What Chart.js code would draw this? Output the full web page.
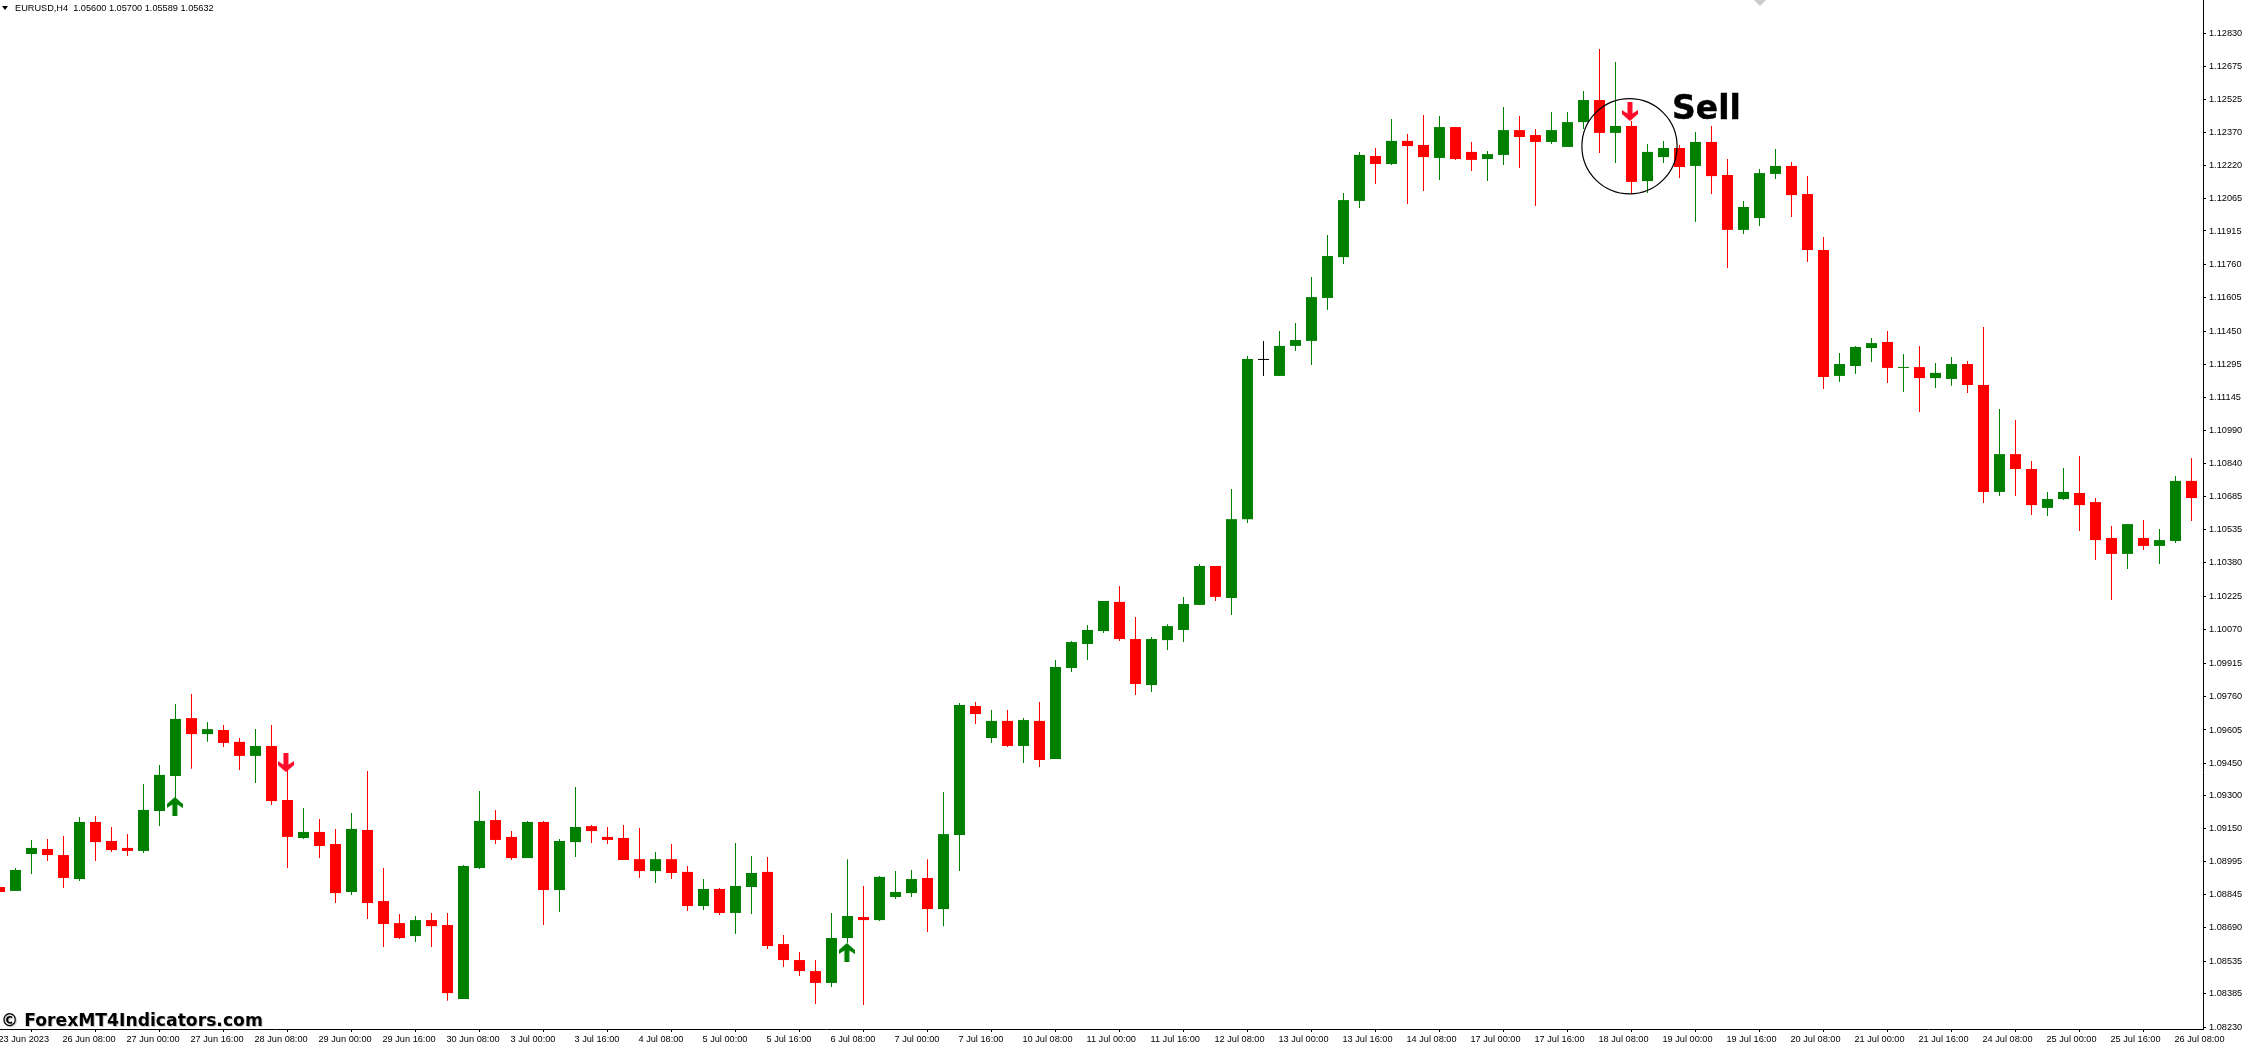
<!DOCTYPE html>
<html><head><meta charset="utf-8">
<script src="https://cdn.jsdelivr.net/npm/chart.js@4"></script>
<style>
html,body{margin:0;padding:0;background:#fff;overflow:hidden;width:2244px;height:1044px}
canvas{display:block;position:absolute;left:0;top:0}
.t{position:absolute;white-space:pre;color:#000;line-height:1}
#head{left:15px;top:3px;font:9.2px "Liberation Sans",sans-serif}
#tri{position:absolute;left:2px;top:6px;width:0;height:0;border-left:3px solid transparent;border-right:3px solid transparent;border-top:4px solid #000}
#mark{left:1px;top:1010px;font:bold 17.2px "DejaVu Sans",sans-serif;text-shadow:1px 1px 0 #ccc}
#sell{left:1672px;top:88px;font:bold 33px "DejaVu Sans",sans-serif;-webkit-text-stroke:.5px #000}
#dia{position:absolute;left:1755px;top:-6px;width:10px;height:10px;background:#ccc;transform:rotate(45deg)}
</style></head><body>
<canvas id="c" width="2244" height="1044"></canvas>
<div id="tri"></div>
<div class="t" id="head">EURUSD,H4  1.05600 1.05700 1.05589 1.05632</div>
<div class="t" id="mark">© ForexMT4Indicators.com</div>
<div class="t" id="sell">Sell</div>
<div id="dia"></div>
<script>
const tickLabels=["23 Jun 2023","26 Jun 08:00","27 Jun 00:00","27 Jun 16:00","28 Jun 08:00","29 Jun 00:00","29 Jun 16:00","30 Jun 08:00","3 Jul 00:00","3 Jul 16:00","4 Jul 08:00","5 Jul 00:00","5 Jul 16:00","6 Jul 08:00","7 Jul 00:00","7 Jul 16:00","10 Jul 08:00","11 Jul 00:00","11 Jul 16:00","12 Jul 08:00","13 Jul 00:00","13 Jul 16:00","14 Jul 08:00","17 Jul 00:00","17 Jul 16:00","18 Jul 08:00","19 Jul 00:00","19 Jul 16:00","20 Jul 08:00","21 Jul 00:00","21 Jul 16:00","24 Jul 08:00","25 Jul 00:00","25 Jul 16:00","26 Jul 08:00"];
const priceTicks=[1.12830,1.12675,1.12525,1.12370,1.12220,1.12065,1.11915,1.11760,1.11605,1.11450,1.11295,1.11145,1.10990,1.10840,1.10685,1.10535,1.10380,1.10225,1.10070,1.09915,1.09760,1.09605,1.09450,1.09300,1.09150,1.08995,1.08845,1.08690,1.08535,1.08385,1.08230];
const opens=[1.08878,1.08860,1.09031,1.09054,1.09026,1.08915,1.09179,1.09091,1.09059,1.09045,
1.09230,1.09392,1.09660,1.09586,1.09605,1.09550,1.09485,1.09531,1.09281,1.09105,
1.09133,1.09077,1.08855,1.09142,1.08813,1.08711,1.08651,1.08725,1.08702,1.08360,
1.08966,1.09188,1.09110,1.09012,1.09179,1.08864,1.09086,1.09160,1.09110,1.09105,
1.09007,1.08952,1.09007,1.08948,1.08790,1.08869,1.08758,1.08878,1.08948,1.08614,
1.08540,1.08489,1.08434,1.08642,1.08739,1.08725,1.08832,1.08850,1.08920,1.08776,
1.09119,1.09716,1.09568,1.09647,1.09531,1.09647,1.09471,1.09892,1.10003,1.10063,
1.10198,1.10026,1.09813,1.10021,1.10068,1.10184,1.10364,1.10216,1.10581,1.11318,
1.11244,1.11383,1.11406,1.11605,1.11794,1.12054,1.12262,1.12225,1.12332,1.12313,
1.12253,1.12396,1.12281,1.12248,1.12267,1.12382,1.12359,1.12327,1.12304,1.12419,
1.12521,1.12369,1.12401,1.12146,1.12257,1.12299,1.12216,1.12327,1.12174,1.11920,
1.11975,1.12179,1.12216,1.12086,1.11827,1.11244,1.11290,1.11373,1.11401,1.11281,
1.11285,1.11234,1.11230,1.11299,1.11202,1.10707,1.10882,1.10813,1.10633,1.10674,
1.10702,1.10660,1.10494,1.10420,1.10494,1.10457,1.10480,1.10758];
const closes=[1.08855,1.08957,1.09059,1.09026,1.08920,1.09179,1.09086,1.09049,1.09045,1.09235,
1.09397,1.09656,1.09586,1.09609,1.09545,1.09485,1.09531,1.09276,1.09110,1.09133,
1.09068,1.08850,1.09147,1.08804,1.08707,1.08642,1.08725,1.08697,1.08387,1.08975,
1.09184,1.09096,1.09012,1.09179,1.08864,1.09091,1.09156,1.09137,1.09096,1.09003,
1.08952,1.09007,1.08943,1.08790,1.08869,1.08758,1.08883,1.08943,1.08605,1.08540,
1.08489,1.08434,1.08642,1.08744,1.08725,1.08925,1.08855,1.08915,1.08776,1.09123,
1.09721,1.09679,1.09647,1.09531,1.09651,1.09466,1.09897,1.10012,1.10068,1.10202,
1.10026,1.09818,1.10026,1.10086,1.10188,1.10364,1.10221,1.10581,1.11322,1.11318,
1.11383,1.11410,1.11609,1.11799,1.12058,1.12267,1.12225,1.12332,1.12308,1.12257,
1.12396,1.12248,1.12244,1.12271,1.12382,1.12350,1.12327,1.12382,1.12419,1.12521,
1.12369,1.12401,1.12142,1.12281,1.12299,1.12211,1.12327,1.12169,1.11920,1.12026,
1.12183,1.12216,1.12081,1.11827,1.11239,1.11299,1.11378,1.11396,1.11281,1.11285,
1.11234,1.11258,1.11299,1.11202,1.10707,1.10882,1.10813,1.10646,1.10674,1.10707,
1.10646,1.10484,1.10420,1.10558,1.10457,1.10484,1.10758,1.10679];
const highs=[1.08878,1.08966,1.09096,1.09100,1.09114,1.09202,1.09207,1.09156,1.09123,1.09355,
1.09443,1.09725,1.09772,1.09642,1.09628,1.09568,1.09609,1.09628,1.09420,1.09244,
1.09193,1.09147,1.09221,1.09415,1.08966,1.08753,1.08744,1.08758,1.08758,1.08980,
1.09323,1.09235,1.09137,1.09184,1.09184,1.09100,1.09341,1.09165,1.09156,1.09165,
1.09151,1.09040,1.09077,1.08975,1.08915,1.08874,1.09082,1.09022,1.09017,1.08656,
1.08577,1.08540,1.08758,1.09007,1.08883,1.08929,1.08952,1.08957,1.09007,1.09318,
1.09730,1.09734,1.09697,1.09697,1.09660,1.09734,1.09929,1.10017,1.10091,1.10202,
1.10272,1.10128,1.10035,1.10095,1.10221,1.10373,1.10364,1.10720,1.11336,1.11406,
1.11452,1.11489,1.11702,1.11896,1.12091,1.12281,1.12299,1.12433,1.12364,1.12452,
1.12447,1.12396,1.12327,1.12285,1.12489,1.12447,1.12387,1.12466,1.12466,1.12563,
1.12757,1.12697,1.12424,1.12318,1.12332,1.12313,1.12373,1.12401,1.12248,1.12054,
1.12202,1.12295,1.12234,1.12169,1.11887,1.11350,1.11383,1.11420,1.11452,1.11345,
1.11383,1.11304,1.11332,1.11313,1.11470,1.11091,1.11040,1.10850,1.10707,1.10818,
1.10873,1.10679,1.10549,1.10558,1.10577,1.10535,1.10781,1.10864];
const lows=[1.08855,1.08860,1.08938,1.08998,1.08874,1.08906,1.08998,1.09040,1.09022,1.09035,
1.09160,1.09290,1.09425,1.09550,1.09526,1.09420,1.09360,1.09258,1.08966,1.09100,
1.09012,1.08804,1.08841,1.08730,1.08600,1.08637,1.08623,1.08600,1.08351,1.08360,
1.08962,1.09077,1.09003,1.09012,1.08702,1.08762,1.09017,1.09082,1.09077,1.09003,
1.08920,1.08897,1.08915,1.08767,1.08772,1.08748,1.08660,1.08753,1.08591,1.08508,
1.08466,1.08337,1.08415,1.08619,1.08332,1.08721,1.08823,1.08832,1.08670,1.08697,
1.08952,1.09633,1.09545,1.09526,1.09452,1.09434,1.09471,1.09873,1.09929,1.10054,
1.10017,1.09767,1.09781,1.09975,1.10012,1.10184,1.10202,1.10137,1.10563,1.11244,
1.11244,1.11359,1.11295,1.11549,1.11762,1.12021,1.12132,1.12220,1.12040,1.12100,
1.12151,1.12244,1.12193,1.12146,1.12220,1.12207,1.12031,1.12318,1.12304,1.12387,
1.12276,1.12230,1.12086,1.12091,1.12230,1.12160,1.11957,1.12086,1.11744,1.11901,
1.11938,1.12156,1.11980,1.11771,1.11184,1.11216,1.11253,1.11308,1.11211,1.11170,
1.11077,1.11188,1.11198,1.11165,1.10656,1.10688,1.10688,1.10600,1.10595,1.10670,
1.10526,1.10392,1.10207,1.10350,1.10438,1.10373,1.10471,1.10572];
const buyBars=[10.96,52.96], buyLevels=[1.09251,1.08575];
const sellBars=[17.9,101.9], sellLevels=[1.09454,1.12468];
const circleBar=[101.875], circleLevel=[1.12307];

const GREEN="#008000",RED="#ff0000";
const colors=opens.map((o,i)=>closes[i]>o?GREEN:closes[i]<o?RED:"#000000");
const tickFont={family:'"Liberation Sans",sans-serif',size:9.2};

function arrow(col,up){
  const c=document.createElement("canvas");c.width=16;c.height=19;
  const g=c.getContext("2d");g.fillStyle=col;
  if(!up){g.translate(0,19);g.scale(1,-1);}
  g.beginPath();
  g.moveTo(8,0);g.lineTo(16,7);g.lineTo(16,11);g.lineTo(10.5,7.5);g.lineTo(10.5,19);g.lineTo(5.5,19);g.lineTo(5.5,7.5);g.lineTo(0,11);g.lineTo(0,7);
  g.closePath();g.fill();return c;
}
function fitAxis(size,key){return s=>{s[key]=size;s.paddingLeft=s.paddingRight=s.paddingTop=s.paddingBottom=0;};}

new Chart(document.getElementById("c"),{
  data:{datasets:[
    {type:"bar",order:3,grouped:false,barThickness:1,inflateAmount:0,borderWidth:0,
     data:highs.map((h,i)=>({x:i,y:[lows[i],h]})),backgroundColor:colors},
    {type:"bar",order:2,grouped:false,barThickness:11,inflateAmount:0,borderWidth:0,minBarLength:1,
     data:opens.map((o,i)=>({x:i,y:[o,closes[i]]})),backgroundColor:colors},
    {type:"scatter",order:1,data:buyBars.map((x,i)=>({x,y:buyLevels[i]})),pointStyle:arrow(GREEN,true),pointRadius:8},
    {type:"scatter",order:1,data:sellBars.map((x,i)=>({x,y:sellLevels[i]})),pointStyle:arrow("#ff0a28",false),pointRadius:8},
    {type:"scatter",order:0,data:circleBar.map((x,i)=>({x,y:circleLevel[i]})),pointRadius:47.6,
     pointBackgroundColor:"rgba(0,0,0,0)",pointBorderColor:"#000",pointBorderWidth:1.2}
  ]},
  options:{
    responsive:false,animation:false,devicePixelRatio:1,
    layout:{padding:0,autoPadding:false},
    events:[],
    plugins:{legend:{display:false},tooltip:{enabled:false},title:{display:false}},
    scales:{
      x:{type:"linear",position:"bottom",bounds:"data",min:0.03125,max:137.71875,offset:false,
        afterBuildTicks:s=>{s.ticks=tickLabels.map((_,k)=>({value:k*4}));},
        afterFit:fitAxis(15,"height"),
        grid:{drawOnChartArea:false,drawTicks:true,tickLength:3,color:"#000",tickColor:"#000",tickWidth:1},
        border:{display:true,color:"#000",width:1},
        ticks:{autoSkip:false,maxRotation:0,minRotation:0,align:"start",padding:2,labelOffset:-1,color:"#000",font:tickFont,
          callback:v=>tickLabels[v/4]}},
      y:{type:"linear",position:"right",bounds:"data",min:1.082208,max:1.129842,
        afterBuildTicks:s=>{s.ticks=priceTicks.map(v=>({value:v}));},
        afterFit:fitAxis(41,"width"),
        grid:{drawOnChartArea:false,drawTicks:true,tickLength:3,color:"#000",tickColor:"#000",tickWidth:1},
        border:{display:true,color:"#000",width:1},
        ticks:{autoSkip:false,padding:3,color:"#000",font:tickFont,callback:v=>v.toFixed(5)}}
    }
  }
});
</script>
</body></html>
